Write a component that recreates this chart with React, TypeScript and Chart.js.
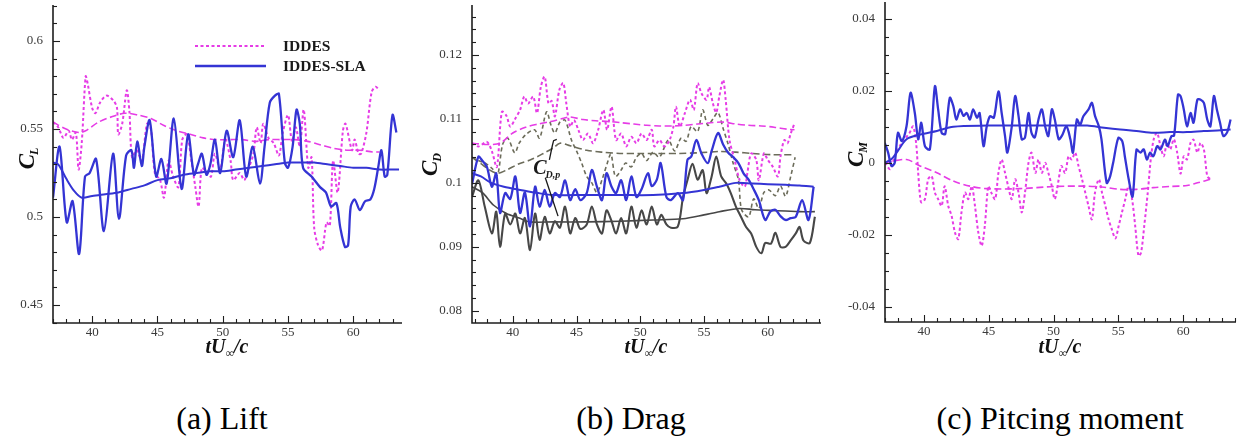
import React, { useEffect, useRef } from 'react';
import { Chart, registerables } from 'chart.js';

Chart.register(...registerables);

const SERIF = '"Liberation Serif", "Times New Roman", Times, serif';
const MAGENTA = '#e63ce6';
const BLUE = '#3434d4';
const GRAY = '#474747';
const OLIVE = '#6c6c5a';

const xTicks = [40, 45, 50, 55, 60];
const liftTicks = [0.45, 0.5, 0.55, 0.6];
const dragTicks = [0.08, 0.09, 0.1, 0.11, 0.12];
const momentTicks = [-0.04, -0.02, 0, 0.02, 0.04];
const captions = ['(a) Lift', '(b) Drag', '(c) Pitcing moment'];
const legendLabels = ['IDDES', 'IDDES-SLA'];

// ---------- Lift (t, C_L) ----------
const liftSla = [[37.0,0.511],[37.5,0.540],[38.05,0.497],[38.5,0.509],[39.0,0.479],[39.45,0.523],[39.8,0.525],[40.3,0.533],[40.9,0.492],[41.6,0.536],[42.05,0.499],[42.6,0.535],[43.0,0.538],[43.2,0.528],[43.45,0.543],[43.8,0.529],[44.0,0.540],[44.4,0.555],[44.9,0.523],[45.3,0.533],[45.7,0.519],[46.25,0.556],[46.85,0.516],[47.35,0.547],[47.8,0.524],[48.1,0.530],[48.4,0.536],[48.75,0.524],[49.05,0.530],[49.4,0.544],[49.8,0.525],[50.3,0.549],[50.8,0.534],[51.3,0.555],[51.8,0.523],[52.3,0.540],[52.85,0.519],[53.2,0.540],[53.6,0.565],[54.0,0.569],[54.3,0.570],[54.75,0.531],[55.0,0.528],[55.35,0.540],[55.65,0.561],[55.9,0.553],[56.15,0.528],[56.8,0.523],[57.45,0.517],[57.9,0.514],[58.3,0.506],[58.7,0.508],[59.0,0.494],[59.36,0.483],[59.6,0.484],[59.8,0.506],[60.1,0.510],[60.5,0.504],[60.9,0.509],[61.3,0.510],[61.6,0.516],[61.9,0.528],[62.15,0.538],[62.4,0.523],[62.6,0.524],[63.0,0.558],[63.3,0.548]];
const liftSlaMean = [[37.0,0.531],[37.4,0.530],[38.0,0.522],[38.6,0.515],[39.2,0.511],[40.0,0.512],[41.0,0.513],[42.0,0.514],[43.0,0.516],[44.0,0.518],[45.0,0.521],[46.0,0.522],[47.0,0.524],[48.0,0.525],[49.0,0.526],[50.0,0.526],[51.0,0.527],[52.0,0.528],[53.0,0.529],[54.0,0.530],[55.0,0.531],[56.0,0.531],[57.0,0.531],[58.0,0.530],[59.0,0.529],[60.0,0.528],[61.0,0.528],[62.0,0.527],[63.0,0.527],[63.5,0.527]];
const liftIddes = [[37.0,0.554],[37.4,0.551],[37.8,0.545],[38.2,0.549],[38.45,0.544],[38.75,0.548],[38.96,0.527],[39.2,0.542],[39.5,0.580],[39.65,0.576],[40.0,0.562],[40.25,0.559],[40.6,0.565],[41.1,0.569],[41.65,0.566],[41.9,0.562],[42.0,0.547],[42.3,0.553],[42.65,0.572],[42.85,0.560],[43.05,0.534],[43.4,0.538],[43.8,0.532],[44.2,0.553],[44.5,0.550],[44.8,0.525],[45.2,0.521],[45.5,0.511],[45.85,0.532],[46.2,0.523],[46.6,0.517],[46.9,0.544],[47.25,0.547],[47.6,0.532],[47.9,0.517],[48.15,0.506],[48.4,0.528],[48.8,0.525],[49.1,0.523],[49.4,0.536],[49.8,0.527],[50.2,0.544],[50.6,0.532],[50.8,0.521],[51.3,0.525],[51.65,0.521],[52.0,0.528],[52.35,0.536],[52.6,0.551],[52.9,0.542],[53.1,0.553],[53.5,0.545],[53.9,0.542],[54.3,0.535],[54.6,0.548],[55.0,0.558],[55.3,0.543],[55.6,0.551],[55.9,0.540],[56.2,0.561],[56.55,0.528],[56.8,0.534],[57.0,0.494],[57.3,0.484],[57.6,0.481],[57.95,0.497],[58.2,0.495],[58.45,0.532],[58.8,0.514],[59.2,0.549],[59.4,0.553],[59.9,0.538],[60.1,0.544],[60.4,0.536],[60.6,0.536],[61.0,0.548],[61.4,0.571],[61.7,0.574],[62.0,0.572]];
const liftIddesMean = [[37.0,0.554],[38.0,0.550],[39.0,0.548],[39.5,0.549],[40.5,0.554],[41.5,0.557],[42.5,0.559],[43.5,0.558],[44.5,0.556],[45.5,0.552],[46.5,0.549],[47.5,0.547],[48.5,0.545],[49.5,0.544],[50.5,0.544],[51.5,0.544],[52.5,0.543],[53.5,0.544],[54.5,0.544],[55.5,0.544],[56.5,0.543],[57.5,0.541],[58.5,0.539],[59.5,0.538],[60.5,0.538],[61.5,0.537],[62.0,0.537]];

// ---------- Drag (t, C_D and C_D,p) ----------
const dragIddes = [[36.8,0.1062],[37.3,0.1057],[37.97,0.1064],[38.35,0.1050],[38.75,0.1025],[39.14,0.1111],[39.5,0.1105],[39.8,0.1088],[40.18,0.1100],[40.57,0.1114],[40.9,0.1135],[41.2,0.1124],[41.6,0.1135],[41.9,0.1109],[42.2,0.1150],[42.5,0.1166],[42.8,0.1124],[43.05,0.1128],[43.3,0.1104],[43.65,0.1145],[43.96,0.1156],[44.2,0.1124],[44.5,0.1088],[44.8,0.1098],[45.14,0.1083],[45.5,0.1067],[45.9,0.1077],[46.3,0.1062],[46.7,0.1083],[47.1,0.1114],[47.4,0.1083],[47.75,0.1119],[48.1,0.1067],[48.5,0.1077],[48.9,0.1057],[49.3,0.1072],[49.7,0.1062],[50.1,0.1077],[50.5,0.1067],[50.9,0.1083],[51.1,0.1057],[51.5,0.1067],[51.9,0.1057],[52.3,0.1067],[52.6,0.1088],[52.8,0.1119],[53.1,0.1088],[53.5,0.1109],[53.9,0.1130],[54.2,0.1114],[54.5,0.1156],[54.8,0.1140],[55.2,0.1130],[55.4,0.1150],[55.7,0.1124],[55.96,0.1110],[56.2,0.1135],[56.5,0.1161],[56.7,0.1130],[57.0,0.1067],[57.4,0.1036],[57.8,0.1004],[58.2,0.0994],[58.4,0.1015],[58.7,0.1046],[59.1,0.1036],[59.3,0.1004],[59.7,0.1046],[60.0,0.1036],[60.4,0.1025],[60.8,0.1010],[61.0,0.1041],[61.3,0.1067],[61.55,0.1062],[61.8,0.1077],[62.1,0.1093]];
const dragIddesMean = [[36.8,0.1062],[38.0,0.1060],[39.0,0.1062],[40.0,0.1078],[41.0,0.1087],[42.0,0.1092],[43.0,0.1096],[44.0,0.1101],[44.5,0.1103],[45.5,0.1099],[46.5,0.1097],[47.5,0.1096],[48.5,0.1094],[49.5,0.1092],[50.5,0.1090],[51.5,0.1089],[52.5,0.1089],[53.5,0.1090],[54.5,0.1092],[55.5,0.1094],[56.5,0.1095],[57.5,0.1092],[58.5,0.1090],[59.5,0.1089],[60.5,0.1087],[61.5,0.1084],[62.1,0.1083]];
const dragIddesP = [[36.8,0.1040],[37.3,0.1035],[37.9,0.1030],[38.4,0.1022],[38.8,0.1012],[39.2,0.1060],[39.6,0.1070],[40.15,0.1047],[40.5,0.1062],[41.0,0.1075],[41.7,0.1083],[42.1,0.1070],[42.65,0.1111],[43.0,0.1090],[43.3,0.1078],[43.7,0.1095],[44.1,0.1098],[44.6,0.1067],[45.0,0.1050],[45.4,0.1031],[45.8,0.1010],[46.2,0.1000],[46.6,0.0985],[47.0,0.1005],[47.4,0.1030],[47.7,0.1045],[48.05,0.1010],[48.5,0.1020],[48.85,0.1031],[49.3,0.1025],[49.7,0.1040],[50.1,0.1046],[50.5,0.1035],[51.0,0.1048],[51.5,0.1040],[52.2,0.1067],[52.7,0.1050],[53.2,0.1070],[53.6,0.1065],[54.0,0.1088],[54.5,0.1080],[54.9,0.1114],[55.3,0.1090],[55.7,0.1100],[56.1,0.1110],[56.5,0.1085],[56.9,0.1060],[57.3,0.1030],[57.7,0.1005],[57.95,0.0958],[58.5,0.0947],[58.9,0.0975],[59.3,0.0960],[59.7,0.0985],[60.1,0.0989],[60.6,0.0980],[61.0,0.0995],[61.4,0.0979],[61.8,0.1010],[62.15,0.1040]];
const dragIddesPMean = [[36.8,0.1040],[37.5,0.1030],[38.2,0.1020],[38.8,0.1015],[39.5,0.1020],[40.5,0.1030],[41.4,0.1036],[42.4,0.1046],[43.2,0.1055],[43.7,0.1062],[44.5,0.1058],[45.8,0.1051],[47.0,0.1048],[48.4,0.1046],[50.0,0.1046],[51.5,0.1046],[53.0,0.1046],[54.5,0.1047],[56.2,0.1049],[57.5,0.1048],[58.8,0.1046],[60.4,0.1044],[62.1,0.1044]];
const dragSla = [[36.8,0.0998],[37.3,0.1041],[37.6,0.1035],[37.97,0.1025],[38.36,0.0994],[38.7,0.1015],[39.0,0.0953],[39.4,0.0984],[39.8,0.0975],[40.2,0.1010],[40.57,0.0953],[40.95,0.0985],[41.35,0.0932],[41.75,0.0994],[42.1,0.0963],[42.5,0.0989],[42.9,0.0963],[43.3,0.0984],[43.7,0.0978],[44.1,0.1004],[44.5,0.0973],[44.9,0.0990],[45.3,0.0973],[45.8,0.0984],[46.2,0.1020],[46.6,0.0994],[47.0,0.0973],[47.35,0.1015],[47.75,0.0994],[48.1,0.0984],[48.5,0.1004],[48.9,0.0973],[49.3,0.1010],[49.7,0.0978],[50.1,0.0990],[50.6,0.1015],[50.9,0.0995],[51.3,0.1005],[51.6,0.1031],[52.05,0.0978],[52.4,0.0973],[52.95,0.0984],[53.35,0.0973],[53.7,0.1036],[54.0,0.1041],[54.4,0.1067],[54.8,0.1046],[55.3,0.1031],[55.6,0.1050],[56.1,0.1078],[56.5,0.1060],[56.9,0.1047],[57.3,0.1040],[57.7,0.1031],[58.1,0.1015],[58.5,0.1005],[58.9,0.0990],[59.3,0.0973],[59.8,0.0942],[60.2,0.0955],[60.6,0.0958],[61.0,0.0948],[61.4,0.0942],[61.8,0.0945],[62.2,0.0947],[62.7,0.0973],[63.2,0.0942],[63.6,0.0994]];
const dragSlaMean = [[36.8,0.1015],[37.5,0.1010],[38.3,0.1000],[39.3,0.0994],[40.6,0.0989],[42.0,0.0984],[43.2,0.0981],[45.8,0.0981],[48.4,0.0981],[51.0,0.0981],[53.35,0.0984],[55.0,0.0989],[56.2,0.0994],[57.5,0.1000],[58.8,0.0999],[60.0,0.0998],[61.4,0.0997],[62.5,0.0996],[63.6,0.0994]];
const dragSlaP = [[36.8,0.0978],[37.3,0.1004],[37.8,0.0963],[38.36,0.0921],[38.7,0.0955],[39.0,0.0900],[39.4,0.0952],[39.8,0.0935],[40.2,0.0952],[40.57,0.0921],[40.95,0.0945],[41.35,0.0895],[41.75,0.0952],[42.1,0.0911],[42.5,0.0947],[42.9,0.0921],[43.3,0.0940],[43.7,0.0930],[44.1,0.0963],[44.5,0.0921],[44.9,0.0945],[45.3,0.0928],[45.8,0.0935],[46.2,0.0963],[46.6,0.0935],[47.0,0.0921],[47.35,0.0957],[47.75,0.0940],[48.1,0.0921],[48.5,0.0945],[48.9,0.0921],[49.3,0.0963],[49.7,0.0930],[50.1,0.0957],[50.5,0.0935],[50.9,0.0963],[51.3,0.0935],[51.65,0.0950],[52.05,0.0935],[52.4,0.0930],[52.95,0.0932],[53.35,0.0977],[53.7,0.1004],[54.1,0.1030],[54.5,0.1005],[54.9,0.1020],[55.2,0.0984],[55.6,0.1010],[55.96,0.1041],[56.35,0.1010],[56.75,0.0999],[57.1,0.0984],[57.5,0.0963],[57.9,0.0947],[58.3,0.0931],[58.7,0.0921],[59.1,0.0900],[59.5,0.0890],[59.8,0.0906],[60.25,0.0905],[60.6,0.0922],[61.0,0.0900],[61.4,0.0900],[61.8,0.0910],[62.2,0.0921],[62.5,0.0931],[62.8,0.0910],[63.3,0.0906],[63.7,0.0947]];
const dragSlaPMean = [[36.8,0.0994],[37.6,0.0985],[38.5,0.0965],[39.5,0.0952],[40.5,0.0945],[41.35,0.0939],[43.2,0.0939],[45.8,0.0939],[48.4,0.0940],[51.0,0.0942],[53.35,0.0944],[55.0,0.0950],[56.2,0.0955],[57.8,0.0960],[59.0,0.0958],[60.1,0.0957],[61.4,0.0956],[62.5,0.0955],[63.7,0.0955]];

// ---------- Pitching moment (t, C_M) ----------
const momentSla = [[36.98,0.0055],[37.24,0.0028],[37.5,-0.0009],[37.75,0.0000],[38.0,0.0083],[38.3,0.0060],[38.66,0.0101],[38.97,0.0194],[39.3,0.0138],[39.56,0.0065],[39.8,0.0111],[40.08,0.0046],[40.46,0.0037],[40.85,0.0212],[41.1,0.0148],[41.37,0.0083],[41.65,0.0080],[42.0,0.0180],[42.27,0.0157],[42.5,0.0120],[42.8,0.0148],[43.05,0.0130],[43.3,0.0138],[43.55,0.0120],[43.8,0.0148],[44.1,0.0125],[44.3,0.0138],[44.6,0.0046],[44.85,0.0101],[45.1,0.0129],[45.4,0.0125],[45.75,0.0198],[46.0,0.0138],[46.26,0.0074],[46.44,0.0028],[46.78,0.0101],[47.04,0.0185],[47.3,0.0130],[47.55,0.0065],[47.8,0.0070],[48.07,0.0138],[48.3,0.0083],[48.55,0.0070],[48.84,0.0120],[49.1,0.0148],[49.36,0.0100],[49.6,0.0074],[49.87,0.0148],[50.1,0.0120],[50.4,0.0065],[50.65,0.0075],[51.0,0.0101],[51.3,0.0065],[51.5,0.0028],[51.8,0.0120],[52.05,0.0105],[52.3,0.0129],[52.7,0.0148],[52.96,0.0166],[53.2,0.0130],[53.5,0.0101],[53.7,0.0065],[54.1,-0.0056],[54.35,-0.0040],[54.6,0.0000],[55.0,0.0069],[55.3,0.0060],[55.5,0.0018],[55.8,-0.0046],[56.1,-0.0094],[56.4,0.0036],[56.7,0.0028],[56.96,0.0037],[57.2,0.0009],[57.45,0.0028],[57.7,0.0018],[58.0,0.0046],[58.25,0.0037],[58.6,0.0064],[58.8,0.0046],[59.1,0.0074],[59.3,0.0075],[59.6,0.0189],[59.8,0.0185],[60.05,0.0148],[60.3,0.0101],[60.57,0.0138],[60.8,0.0111],[61.1,0.0175],[61.35,0.0175],[61.6,0.0166],[61.86,0.0120],[62.1,0.0101],[62.37,0.0185],[62.6,0.0148],[62.85,0.0110],[63.1,0.0074],[63.4,0.0085],[63.66,0.0120]];
const momentSlaMean = [[37.0,0.0000],[37.5,0.0010],[37.9,0.0028],[38.66,0.0065],[39.7,0.0078],[41.0,0.0088],[42.27,0.0100],[44.85,0.0103],[47.4,0.0103],[50.0,0.0103],[52.6,0.0103],[53.9,0.0097],[55.15,0.0092],[56.4,0.0088],[57.7,0.0083],[59.0,0.0085],[60.3,0.0085],[61.6,0.0088],[62.9,0.0090],[63.66,0.0092]];
const momentIddes = [[37.0,0.0000],[37.4,-0.0018],[37.76,0.0018],[38.14,0.0046],[38.5,0.0065],[38.9,0.0083],[39.17,0.0101],[39.4,0.0055],[39.56,-0.0028],[39.7,-0.0092],[39.8,-0.0110],[40.08,-0.0101],[40.33,-0.0046],[40.6,-0.0037],[40.85,-0.0083],[41.1,-0.0101],[41.37,-0.0120],[41.6,-0.0065],[41.88,-0.0120],[42.14,-0.0148],[42.4,-0.0194],[42.65,-0.0212],[42.9,-0.0138],[43.17,-0.0083],[43.43,-0.0101],[43.7,-0.0065],[43.94,-0.0120],[44.2,-0.0194],[44.46,-0.0231],[44.7,-0.0175],[44.97,-0.0065],[45.2,-0.0083],[45.5,-0.0101],[45.75,-0.0028],[46.0,0.0009],[46.26,-0.0028],[46.5,-0.0065],[46.78,-0.0101],[47.04,-0.0046],[47.3,-0.0083],[47.55,-0.0138],[47.8,-0.0083],[48.07,0.0000],[48.3,0.0028],[48.6,-0.0028],[48.84,0.0009],[49.1,-0.0028],[49.36,0.0000],[49.6,-0.0028],[49.87,-0.0065],[50.1,-0.0101],[50.4,-0.0046],[50.6,-0.0009],[50.9,-0.0028],[51.16,0.0018],[51.4,0.0009],[51.67,0.0028],[51.93,-0.0009],[52.2,-0.0046],[52.45,-0.0083],[52.7,-0.0120],[52.96,-0.0157],[53.2,-0.0083],[53.5,-0.0046],[53.74,-0.0083],[54.0,-0.0120],[54.25,-0.0157],[54.5,-0.0185],[54.77,-0.0210],[55.03,-0.0175],[55.28,-0.0138],[55.54,-0.0101],[55.8,-0.0065],[56.06,-0.0101],[56.3,-0.0175],[56.55,-0.0258],[56.75,-0.0250],[57.0,-0.0175],[57.27,-0.0083],[57.5,0.0009],[57.73,0.0065],[57.99,0.0083],[58.25,0.0046],[58.5,0.0018],[58.76,0.0055],[59.0,0.0037],[59.28,0.0065],[59.54,0.0028],[59.8,-0.0030],[60.05,0.0018],[60.3,0.0009],[60.57,0.0055],[60.8,0.0064],[61.1,0.0028],[61.34,0.0055],[61.6,0.0037],[61.86,-0.0037],[62.1,-0.0046]];
const momentIddesMean = [[37.0,0.0000],[38.66,0.0009],[39.7,-0.0009],[41.0,-0.0028],[42.27,-0.0051],[43.55,-0.0065],[44.85,-0.0072],[47.4,-0.0072],[50.0,-0.0066],[52.6,-0.0065],[53.9,-0.0068],[55.15,-0.0074],[56.4,-0.0074],[57.7,-0.0069],[59.0,-0.0066],[60.3,-0.0063],[61.2,-0.0055],[62.1,-0.0046]];

// annotation "C_D,p" anchored in data coordinates
const cdpLabel = [41.6, 0.1014];
const cdpUpper = [[42.87, 0.1036], [43.1, 0.1058], [43.2, 0.1066], [43.45, 0.1068]];
const cdpLower = [[42.55, 0.1008], [43.0, 0.0981], [43.55, 0.0948]];

type Line = { data: number[][]; color: string; width: number; dash: number[] };

const mk = (data: number[][], color: string, width: number, dash: number[]): Line => ({ data, color, width, dash });

const DOT = [3, 2.5];
const DASH = [7, 3.5];
const GDASH = [4, 3];

type PanelCfg = {
  key: string;
  left: number;
  width: number;
  height: number;
  padTop: number;
  padRight: number;
  padBottom: number;
  yAxisW: number;
  xMin: number;
  xMax: number;
  yMin: number;
  yMax: number;
  yTicks: number[];
  yMinor: number;
  yMajor: number;
  lines: Line[];
  yTitle: { main: string; sub: string; x: number; y: number };
  xTitleY: number;
  legend?: boolean;
  annot?: boolean;
};

const panels: PanelCfg[] = [
  {
    key: 'lift', left: 0, width: 414, height: 370, padTop: 5, padRight: 13, padBottom: 30, yAxisW: 53,
    xMin: 37, xMax: 63.65, yMin: 0.4398, yMax: 0.6205, yTicks: liftTicks, yMinor: 0.01, yMajor: 0.05,
    lines: [
      mk(liftSla, BLUE, 2.3, []),
      mk(liftSlaMean, BLUE, 2, []),
      mk(liftIddes, MAGENTA, 2, DOT),
      mk(liftIddesMean, MAGENTA, 1.6, DASH),
    ],
    yTitle: { main: 'C', sub: 'L', x: 34, y: 158 }, xTitleY: 353, legend: true,
  },
  {
    key: 'drag', left: 414, width: 414, height: 370, padTop: 5, padRight: 8, padBottom: 30, yAxisW: 58,
    xMin: 36.8, xMax: 64.1, yMin: 0.0781, yMax: 0.1278, yTicks: dragTicks, yMinor: 0.002, yMajor: 0.01,
    lines: [
      mk(dragSla, BLUE, 2.3, []),
      mk(dragSlaMean, BLUE, 2, []),
      mk(dragSlaP, GRAY, 2.1, []),
      mk(dragSlaPMean, GRAY, 1.6, []),
      mk(dragIddes, MAGENTA, 2, DOT),
      mk(dragIddesMean, MAGENTA, 1.6, DASH),
      mk(dragIddesP, OLIVE, 1.6, GDASH),
      mk(dragIddesPMean, OLIVE, 1.6, DASH),
    ],
    yTitle: { main: 'C', sub: 'D', x: 23, y: 164 }, xTitleY: 353, annot: true,
  },
  {
    key: 'moment', left: 828, width: 413, height: 370, padTop: 2, padRight: 6, padBottom: 31, yAxisW: 57,
    xMin: 37, xMax: 64, yMin: -0.0442, yMax: 0.0446, yTicks: momentTicks, yMinor: 0.005, yMajor: 0.02,
    lines: [
      mk(momentSla, BLUE, 2.3, []),
      mk(momentSlaMean, BLUE, 2, []),
      mk(momentIddes, MAGENTA, 2, DOT),
      mk(momentIddesMean, MAGENTA, 1.6, DASH),
    ],
    yTitle: { main: 'C', sub: 'M', x: 35, y: 154 }, xTitleY: 353,
  },
];

function fmt(v: number): string {
  const s = Number(v.toFixed(4)).toString();
  return s === '-0' ? '0' : s;
}

function makeDecor(cfg: PanelCfg) {
  return {
    id: 'decor_' + cfg.key,
    afterDraw(chart: any) {
      const ctx: CanvasRenderingContext2D = chart.ctx;
      const a = chart.chartArea;
      const xs = chart.scales.x;
      const ys = chart.scales.y;
      ctx.save();
      ctx.strokeStyle = '#1e1e1e';
      ctx.lineWidth = 1.6;
      ctx.setLineDash([]);
      ctx.beginPath();
      ctx.moveTo(a.left, a.top);
      ctx.lineTo(a.left, a.bottom);
      ctx.lineTo(a.right + 1, a.bottom);
      ctx.stroke();
      ctx.lineWidth = 1.1;
      for (let v = Math.ceil(xs.min); v <= xs.max + 1e-9; v += 1) {
        const px = Math.round(xs.getPixelForValue(v)) + 0.5;
        const len = v % 5 === 0 ? 7 : 4;
        ctx.beginPath();
        ctx.moveTo(px, a.bottom);
        ctx.lineTo(px, a.bottom - len);
        ctx.stroke();
      }
      const ratio = Math.round(cfg.yMajor / cfg.yMinor);
      const k0 = Math.ceil(ys.min / cfg.yMinor - 1e-6);
      const k1 = Math.floor(ys.max / cfg.yMinor + 1e-6);
      for (let k = k0; k <= k1; k++) {
        const py = Math.round(ys.getPixelForValue(k * cfg.yMinor)) + 0.5;
        const len = k % ratio === 0 ? 7 : 4;
        ctx.beginPath();
        ctx.moveTo(a.left, py);
        ctx.lineTo(a.left + len, py);
        ctx.stroke();
      }
      ctx.fillStyle = '#111';
      ctx.translate(cfg.yTitle.x, cfg.yTitle.y);
      ctx.rotate(-Math.PI / 2);
      ctx.textAlign = 'left';
      ctx.textBaseline = 'alphabetic';
      ctx.font = `italic bold 23px ${SERIF}`;
      const wm = ctx.measureText(cfg.yTitle.main).width;
      ctx.font = `italic bold 12px ${SERIF}`;
      const ws = ctx.measureText(cfg.yTitle.sub).width;
      const x0 = -(wm + ws) / 2;
      ctx.font = `italic bold 23px ${SERIF}`;
      ctx.fillText(cfg.yTitle.main, x0, 0);
      ctx.font = `italic bold 12px ${SERIF}`;
      ctx.fillText(cfg.yTitle.sub, x0 + wm - 1, 4);
      ctx.setTransform(1, 0, 0, 1, 0, 0);
      const cx = (a.left + a.right) / 2;
      const big = `italic bold 20px ${SERIF}`;
      const small = `italic bold 12px ${SERIF}`;
      ctx.font = big;
      const w1 = ctx.measureText('tU').width;
      const w3 = ctx.measureText('/c').width;
      ctx.font = small;
      const w2 = ctx.measureText('\u221e').width;
      let xx = cx - (w1 + w2 + w3) / 2;
      ctx.font = big;
      ctx.fillText('tU', xx, cfg.xTitleY);
      xx += w1;
      ctx.font = small;
      ctx.fillText('\u221e', xx, cfg.xTitleY + 4);
      xx += w2;
      ctx.font = big;
      ctx.fillText('/c', xx, cfg.xTitleY);
      if (cfg.legend) {
        const items = [cfg.lines[2], cfg.lines[0]];
        const ys2 = [46, 66];
        items.forEach((ln, i) => {
          ctx.strokeStyle = ln.color;
          ctx.lineWidth = ln.width;
          ctx.setLineDash(ln.dash);
          ctx.beginPath();
          ctx.moveTo(195, ys2[i]);
          ctx.lineTo(266, ys2[i]);
          ctx.stroke();
          ctx.setLineDash([]);
          ctx.fillStyle = '#1a1a1a';
          ctx.font = `bold 15.5px ${SERIF}`;
          ctx.textBaseline = 'middle';
          ctx.fillText(legendLabels[i], 283, ys2[i] + 1);
        });
        ctx.textBaseline = 'alphabetic';
      }
      if (cfg.annot) {
        const lx = xs.getPixelForValue(cdpLabel[0]);
        const ly = ys.getPixelForValue(cdpLabel[1]);
        ctx.fillStyle = '#1a1a1a';
        ctx.font = `italic bold 20px ${SERIF}`;
        ctx.fillText('C', lx, ly);
        const wc = ctx.measureText('C').width;
        ctx.font = `italic bold 10px ${SERIF}`;
        ctx.fillText('D,p', lx + wc - 1, ly + 4);
        ctx.strokeStyle = '#1a1a1a';
        ctx.lineWidth = 1.3;
        ctx.setLineDash([]);
        [cdpUpper, cdpLower].forEach((path) => {
          ctx.beginPath();
          path.forEach((p, i) => {
            const px = xs.getPixelForValue(p[0]);
            const py = ys.getPixelForValue(p[1]);
            if (i === 0) ctx.moveTo(px, py);
            else ctx.lineTo(px, py);
          });
          ctx.stroke();
        });
      }
      ctx.restore();
    },
  };
}

function Panel({ cfg }: { cfg: PanelCfg }) {
  const ref = useRef<HTMLCanvasElement | null>(null);
  useEffect(() => {
    if (!ref.current) return;
    const chart = new Chart(ref.current, {
      type: 'line',
      data: {
        datasets: cfg.lines.map((ln, i) => ({
          label: cfg.key + i,
          data: ln.data.map((p) => ({ x: p[0], y: p[1] })),
          borderColor: ln.color,
          borderWidth: ln.width,
          borderDash: ln.dash,
          pointRadius: 0,
          tension: 0.3,
          fill: false,
          borderCapStyle: 'butt',
          borderJoinStyle: 'round',
        })),
      },
      options: {
        animation: false,
        responsive: false,
        events: [],
        layout: { padding: { left: 0, top: cfg.padTop, right: cfg.padRight, bottom: cfg.padBottom } },
        plugins: { legend: { display: false }, tooltip: { enabled: false }, title: { display: false } },
        scales: {
          x: {
            type: 'linear',
            min: cfg.xMin,
            max: cfg.xMax,
            grid: { display: false, drawTicks: false },
            border: { display: false },
            ticks: {
              font: { family: SERIF, size: 13 },
              color: '#3a3a3a',
              padding: 2,
              maxRotation: 0,
              autoSkip: false,
              includeBounds: false,
              callback: (v: any) => fmt(Number(v)),
            },
            afterBuildTicks: (s: any) => {
              s.ticks = xTicks.map((value) => ({ value }));
            },
            afterFit: (s: any) => {
              s.height = 17;
              s.paddingLeft = 0;
              s.paddingRight = 0;
            },
          },
          y: {
            type: 'linear',
            min: cfg.yMin,
            max: cfg.yMax,
            grid: { display: false, drawTicks: false },
            border: { display: false },
            ticks: {
              font: { family: SERIF, size: 13 },
              color: '#3a3a3a',
              padding: 10,
              autoSkip: false,
              includeBounds: false,
              callback: (v: any) => fmt(Number(v)),
            },
            afterBuildTicks: (s: any) => {
              s.ticks = cfg.yTicks.map((value) => ({ value }));
            },
            afterFit: (s: any) => {
              s.width = cfg.yAxisW;
              s.paddingTop = 0;
              s.paddingBottom = 0;
            },
          },
        },
      } as any,
      plugins: [makeDecor(cfg)],
    } as any);
    return () => chart.destroy();
  }, []);
  return (
    <canvas
      ref={ref}
      width={cfg.width}
      height={cfg.height}
      style={{ position: 'absolute', left: cfg.left, top: 0, width: cfg.width, height: cfg.height }}
    />
  );
}

const captionCenters = [222, 631, 1060];

export default function App() {
  return (
    <div style={{ position: 'absolute', left: 0, top: 0, width: 1241, height: 440, background: '#fff', overflow: 'hidden' }}>
      {panels.map((p) => (
        <Panel key={p.key} cfg={p} />
      ))}
      {captions.map((c, i) => (
        <div
          key={c}
          style={{
            position: 'absolute',
            left: captionCenters[i] - 200,
            width: 400,
            top: 399,
            textAlign: 'center',
            fontFamily: SERIF,
            fontSize: 32,
            lineHeight: '38px',
            color: '#000',
            whiteSpace: 'nowrap',
          }}
        >
          {c}
        </div>
      ))}
    </div>
  );
}
